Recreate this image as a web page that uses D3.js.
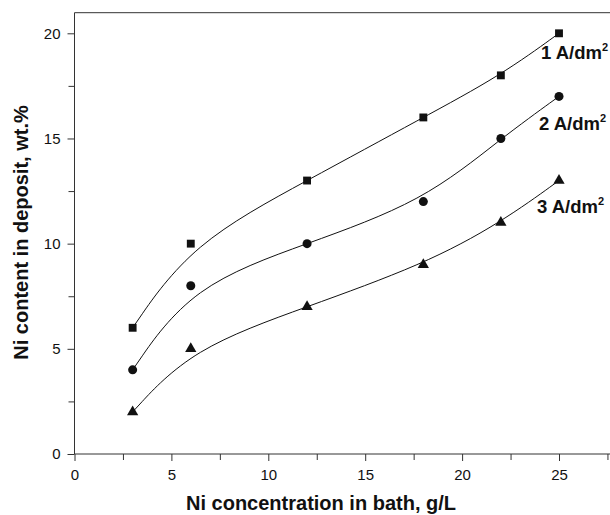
<!DOCTYPE html>
<html>
<head>
<meta charset="utf-8">
<script src="https://cdn.jsdelivr.net/npm/d3@7"></script>
<style>
  body { margin: 0; background: #fff; }
  svg { display: block; font-family: "Liberation Sans", Arial, sans-serif; }
</style>
</head>
<body>
<div id="grafico"></div>
<script>
// dados
const concentracao = [3, 6, 12, 18, 22, 25];
const serie1A = [6, 10, 13, 16, 18, 20];
const serie2A = [4, 8, 10, 12, 15, 17];
const serie3A = [2, 5, 7, 9, 11, 13];
const nomes = ["1 A/dm", "2 A/dm", "3 A/dm"];
const ticksX = [0, 5, 10, 15, 20, 25];
const ticksY = [0, 5, 10, 15, 20];

const largura = 610;
const altura = 515;
const topo = 12.7;

const svg = d3.select("#grafico")
    .append("svg")
    .attr("width", largura)
    .attr("height", altura);

// escalas (o eixo x continua alem da janela)
const x = d3.scaleLinear().domain([0, 25]).range([74.5, 559]);
const y = d3.scaleLinear().domain([0, 20]).range([454, 33.3]);

const fundoY = y(0);
const fimX = x(30);

// linha de cima da moldura
svg.append("line")
    .attr("x1", x(0)).attr("x2", fimX)
    .attr("y1", topo).attr("y2", topo)
    .attr("stroke", "#333").attr("stroke-width", 1);

// eixo x
svg.append("g")
    .attr("transform", `translate(0,${fundoY})`)
    .call(d3.axisBottom(x).tickValues(ticksX).tickSize(7).tickPadding(8).tickFormat(d3.format("d")))
    .select(".domain").attr("d", `M${x(0)},0H${fimX}`);
svg.append("g")
    .attr("transform", `translate(0,${fundoY})`)
    .call(d3.axisBottom(x).tickValues(d3.range(2.5, 30, 5)).tickSize(6).tickFormat(""))
    .select(".domain").remove();

// eixo y
svg.append("g")
    .attr("transform", `translate(${x(0)},0)`)
    .call(d3.axisLeft(y).tickValues(ticksY).tickSize(7).tickPadding(7).tickFormat(d3.format("d")))
    .select(".domain").attr("d", `M0,${topo}V${fundoY}`);
svg.append("g")
    .attr("transform", `translate(${x(0)},0)`)
    .call(d3.axisLeft(y).tickValues(d3.range(2.5, 21, 5)).tickSize(6).tickFormat(""))
    .select(".domain").remove();

svg.selectAll(".domain").attr("stroke", "#333");
svg.selectAll(".tick line").attr("stroke", "#333");
svg.selectAll(".tick text")
    .attr("fill", "#111")
    .style("font-size", "15px")
    .style("font-family", "Liberation Sans, Arial, sans-serif");

// curvas suavizadas (B-spline)
const linha = d3.line()
    .x((d, i) => x(concentracao[i]))
    .y(d => y(d))
    .curve(d3.curveBasis);

const series = [serie1A, serie2A, serie3A];
series.forEach(s => {
    svg.append("path")
        .attr("d", linha(s))
        .attr("fill", "none")
        .attr("stroke", "#111")
        .attr("stroke-width", 1);
});

// marcadores
const simbolos = [d3.symbolSquare, d3.symbolCircle, d3.symbolTriangle];
const tamanhos = [62, 64, 55];
series.forEach((s, k) => {
    svg.selectAll(".m" + k)
        .data(s)
        .enter()
        .append("path")
        .attr("class", "m" + k)
        .attr("d", d3.symbol().type(simbolos[k]).size(tamanhos[k]))
        .attr("transform", (d, i) => `translate(${x(concentracao[i])},${y(d)})`)
        .attr("fill", "#111");
});

// rotulos das series (encostados na borda direita)
const rotulos = [
    { x: 541, y: 59 },
    { x: 539, y: 130 },
    { x: 537, y: 213 }
];
nomes.forEach((n, k) => {
    const t = svg.append("text")
        .attr("x", rotulos[k].x)
        .attr("y", rotulos[k].y)
        .attr("fill", "#111")
        .style("font-size", "18.5px")
        .style("font-weight", "bold")
        .text(n);
    t.append("tspan")
        .attr("dy", -8)
        .style("font-size", "11px")
        .text("2");
});

// titulos dos eixos
svg.append("text")
    .attr("x", 321)
    .attr("y", 510)
    .attr("text-anchor", "middle")
    .attr("fill", "#111")
    .style("font-size", "20px")
    .style("font-weight", "bold")
    .text("Ni concentration in bath, g/L");

svg.append("text")
    .attr("transform", `translate(27.5,232.5) rotate(-90)`)
    .attr("text-anchor", "middle")
    .attr("fill", "#111")
    .style("font-size", "20px")
    .style("font-weight", "bold")
    .text("Ni content in deposit, wt.%");
</script>
</body>
</html>
